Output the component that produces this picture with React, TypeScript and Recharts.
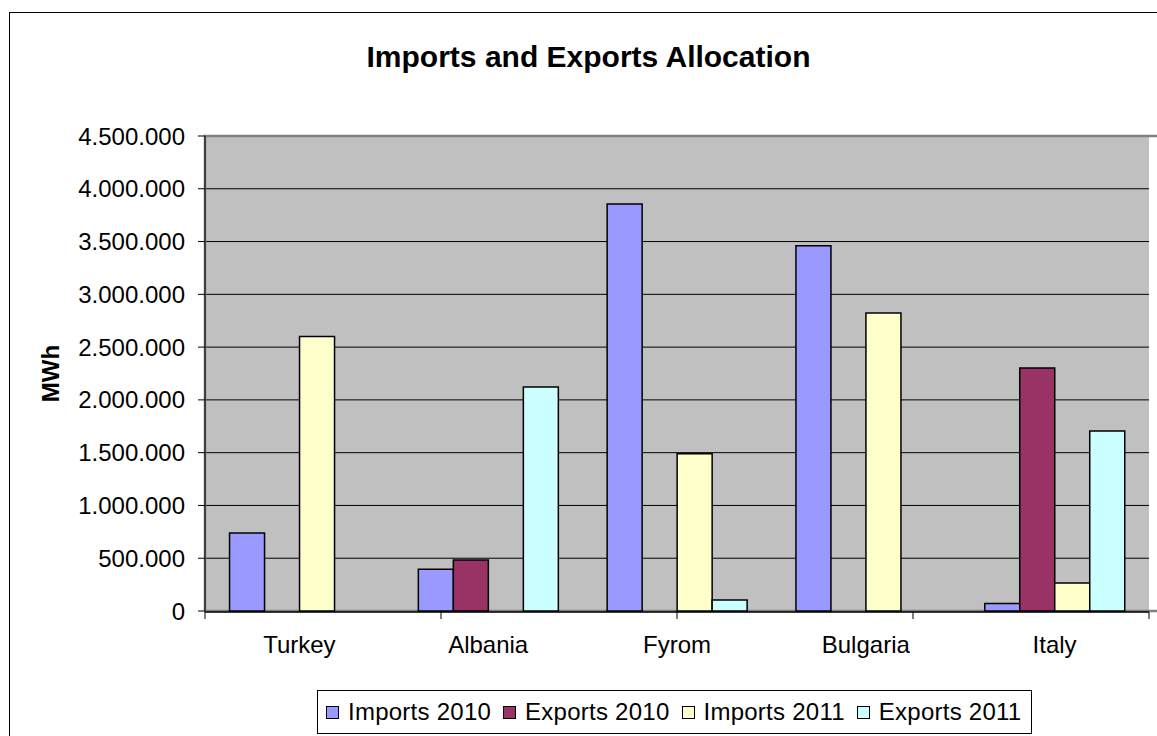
import React from "react";
import { BarChart, Bar, XAxis, YAxis, CartesianGrid, ReferenceArea, Label } from "recharts";

const categories = ["Turkey", "Albania", "Fyrom", "Bulgaria", "Italy"];
const imports2010 = [740000, 395000, 3855000, 3460000, 70000];
const exports2010 = [null, 483000, null, null, 2302000];
const imports2011 = [2600000, null, 1490000, 2822000, 265000];
const exports2011 = [null, 2122000, 104000, null, 1705000];
const yTicks = [0, 500000, 1000000, 1500000, 2000000, 2500000, 3000000, 3500000, 4000000, 4500000];
const boundaryTicks = [0, 1, 2, 3, 4, 5];
const seriesKeys = ["imp10", "exp10", "imp11", "exp11"];
const seriesNames = ["Imports 2010", "Exports 2010", "Imports 2011", "Exports 2011"];
const seriesColors = ["#9999FF", "#993366", "#FFFFCC", "#CCFFFF"];
const title = "Imports and Exports Allocation";
const yLabel = "MWh";

const data = categories.map((c, i) => ({
  name: c,
  imp10: imports2010[i],
  exp10: exports2010[i],
  imp11: imports2011[i],
  exp11: exports2011[i],
}));

const FONT = "'Liberation Sans', Arial, sans-serif";

const fmt = (n: number) => String(n).replace(/\B(?=(\d{3})+(?!\d))/g, ".");

const YLabelContent = (props: any) => {
  const vb = props.viewBox || {};
  const cx = (vb.x ?? 0) + 50;
  const cy = (vb.y ?? 136) + (vb.height ?? 475) / 2;
  return (
    <text
      x={cx}
      y={cy}
      transform={`rotate(-90, ${cx}, ${cy})`}
      textAnchor="middle"
      dominantBaseline="central"
      fontFamily={FONT}
      fontWeight="bold"
      fontSize={24}
      fill="#000"
    >
      {yLabel}
    </text>
  );
};

export default function App() {
  return (
    <div
      style={{
        position: "fixed",
        left: 0,
        top: 0,
        width: 1157,
        height: 736,
        overflow: "hidden",
        background: "#fff",
        fontFamily: FONT,
      }}
    >
      <div
        style={{
          position: "absolute",
          left: 9,
          top: 12,
          width: 1200,
          height: 800,
          border: "1.5px solid #000",
          boxSizing: "border-box",
        }}
      />
      <div style={{ position: "absolute", left: 0, top: 0 }}>
        <BarChart
          width={1157}
          height={736}
          data={data}
          margin={{ top: 136, right: 8, left: 0, bottom: 123 }}
          barCategoryGap="13%"
          barGap={0}
        >
          <CartesianGrid vertical={false} horizontal={true} stroke="#000" strokeWidth={1} fill="#C0C0C0" fillOpacity={1} />
          <XAxis
            dataKey="name"
            interval={0}
            tickLine={false}
            axisLine={false}
            tickSize={0}
            tickMargin={25}
            height={1}
            tick={{ fill: "#000", fontSize: 24, fontFamily: FONT }}
          />
          <XAxis
            xAxisId="b"
            type="number"
            domain={[0, 5]}
            ticks={boundaryTicks}
            tickFormatter={() => ""}
            tickSize={7}
            height={1}
            allowDataOverflow
            axisLine={{ stroke: "#000", strokeWidth: 1.5 }}
            tickLine={{ stroke: "#000", strokeWidth: 1 }}
          />
          <YAxis
            width={205}
            domain={[0, 4500000]}
            ticks={yTicks}
            interval={0}
            tickFormatter={fmt}
            tickSize={7}
            tickMargin={13}
            axisLine={{ stroke: "#404040", strokeWidth: 2 }}
            tickLine={{ stroke: "#000", strokeWidth: 1 }}
            tick={{ fill: "#000", fontSize: 24, fontFamily: FONT }}
          >
            <Label content={<YLabelContent />} />
          </YAxis>
          <ReferenceArea
            xAxisId="b"
            x1={0}
            x2={5}
            y1={0}
            y2={4500000}
            fill="none"
            fillOpacity={0}
            stroke="#808080"
            strokeWidth={2.5}
            ifOverflow="visible"
          />
          {seriesKeys.map((k, i) => (
            <Bar
              key={k}
              dataKey={k}
              name={seriesNames[i]}
              fill={seriesColors[i]}
              stroke="#000"
              strokeWidth={1.5}
              isAnimationActive={false}
            />
          ))}
        </BarChart>
      </div>
      <svg
        width={1157}
        height={736}
        style={{ position: "absolute", left: 0, top: 0, pointerEvents: "none" }}
      >
        <text x={588.5} y={67} textAnchor="middle" fontFamily={FONT} fontWeight="bold" fontSize={30} fill="#000">
          {title}
        </text>
      </svg>
      <div
        style={{
          position: "absolute",
          left: 317,
          top: 690,
          width: 715,
          height: 44,
          border: "1.5px solid #000",
          boxSizing: "border-box",
          display: "flex",
          alignItems: "center",
          paddingLeft: 8,
          background: "#fff",
        }}
      >
        {seriesNames.map((n, i) => (
          <div key={n} style={{ display: "flex", alignItems: "center", marginRight: i < seriesNames.length - 1 ? 12 : 0 }}>
            <span
              style={{
                display: "inline-block",
                width: 13,
                height: 13,
                boxSizing: "border-box",
                border: "1.5px solid #000",
                background: seriesColors[i],
                marginRight: 9,
              }}
            />
            <span style={{ fontSize: 24, lineHeight: "24px", letterSpacing: 0.25, color: "#000", fontFamily: FONT }}>{n}</span>
          </div>
        ))}
      </div>
    </div>
  );
}
